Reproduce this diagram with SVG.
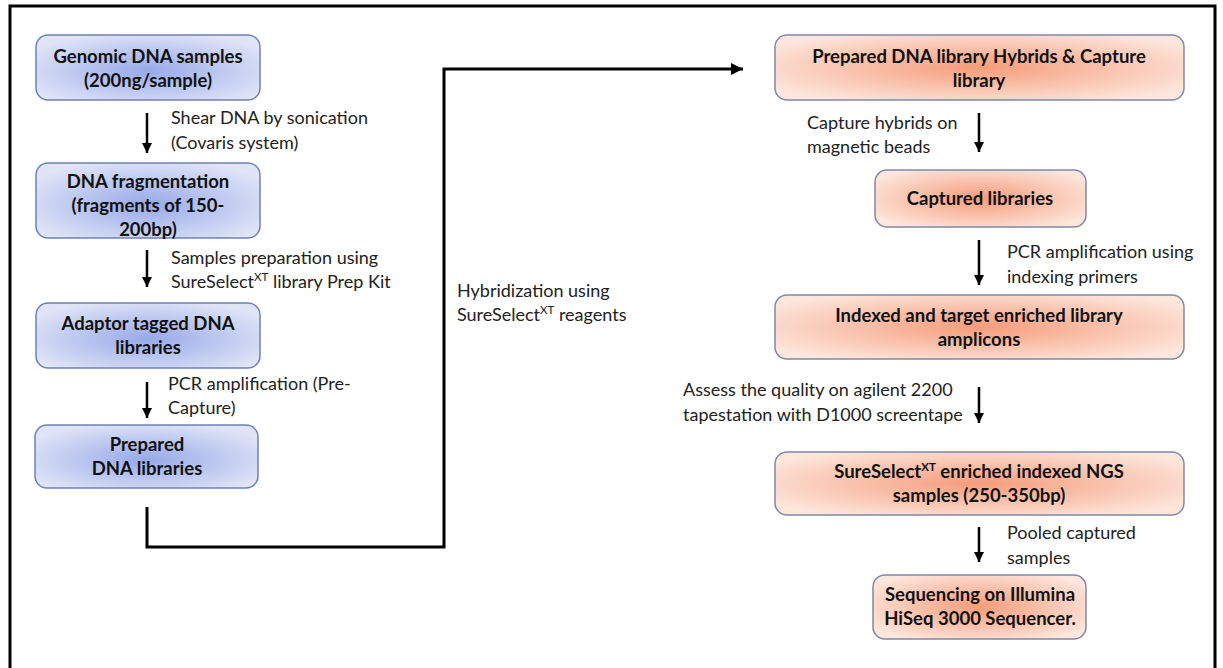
<svg xmlns="http://www.w3.org/2000/svg" width="1223" height="668" viewBox="0 0 1223 668">
  <defs>
    <radialGradient id="gBlue" cx="50%" cy="55%" r="60%">
      <stop offset="0" stop-color="#97a9e8"/>
      <stop offset="1" stop-color="#dfe4f7"/>
    </radialGradient>
    <radialGradient id="gOrange" cx="50%" cy="50%" r="60%">
      <stop offset="0" stop-color="#f59c7a"/>
      <stop offset="1" stop-color="#fde6dc"/>
    </radialGradient>
    <marker id="ah" viewBox="0 0 10 10" refX="10" refY="5" markerWidth="4" markerHeight="4" markerUnits="strokeWidth" orient="auto">
      <path d="M0,0 L10,5 L0,10 Z" fill="#000"/>
    </marker>
  </defs>
  <style>
    .blue { fill: url(#gBlue); stroke: #6f80b4; stroke-width: 1.5; }
    .orange { fill: url(#gOrange); stroke: #7f88aa; stroke-width: 1.5; }
    .t { font-family: Lato, "Liberation Sans", sans-serif; font-size: 18.5px; font-weight: bold; fill: #111; text-anchor: middle; }
    .l { font-family: Lato, "Liberation Sans", sans-serif; font-size: 18px; fill: #222; }
    .sup { font-size: 11.5px; }
    .arr { stroke: #000; stroke-width: 2.5; fill: none; marker-end: url(#ah); }
    .flow { stroke: #000; stroke-width: 3; fill: none; marker-end: url(#ah); }
  </style>

  <rect width="1223" height="668" fill="#fff"/>
  <!-- outer frame, open at the bottom edge -->
  <path d="M10,680 V6 H1215 V680" fill="none" stroke="#000" stroke-width="3"/>

  <!-- left column -->
  <g id="genomic">
    <rect class="blue" x="36" y="35" width="224" height="65" rx="12"/>
    <text class="t" x="148" y="63">Genomic DNA samples</text>
    <text class="t" x="148" y="87">(200ng/sample)</text>
  </g>
  <g id="fragmentation">
    <rect class="blue" x="36" y="163" width="224" height="75" rx="12"/>
    <text class="t" x="148" y="188">DNA fragmentation</text>
    <text class="t" x="148" y="212">(fragments of 150-</text>
    <text class="t" x="148" y="236">200bp)</text>
  </g>
  <g id="adaptor">
    <rect class="blue" x="36" y="303" width="224" height="65" rx="12"/>
    <text class="t" x="148" y="330">Adaptor tagged DNA</text>
    <text class="t" x="148" y="354">libraries</text>
  </g>
  <g id="prepared">
    <rect class="blue" x="35" y="425" width="223" height="63" rx="12"/>
    <text class="t" x="147" y="451">Prepared</text>
    <text class="t" x="147" y="475">DNA libraries</text>
  </g>

  <!-- right column -->
  <g id="hybrids">
    <rect class="orange" x="775" y="35" width="409" height="65" rx="12"/>
    <text class="t" x="979" y="63">Prepared DNA library Hybrids &amp; Capture</text>
    <text class="t" x="979" y="87">library</text>
  </g>
  <g id="captured">
    <rect class="orange" x="875" y="170" width="211" height="57" rx="12"/>
    <text class="t" x="980" y="205">Captured libraries</text>
  </g>
  <g id="indexed">
    <rect class="orange" x="775" y="295" width="409" height="64" rx="12"/>
    <text class="t" x="979" y="322">Indexed and target enriched library</text>
    <text class="t" x="979" y="346">amplicons</text>
  </g>
  <g id="enriched">
    <rect class="orange" x="775" y="452" width="409" height="63" rx="12"/>
    <text class="t" x="979" y="478">SureSelect<tspan class="sup" dy="-7">XT</tspan><tspan dy="7"> enriched indexed NGS</tspan></text>
    <text class="t" x="979" y="502">samples (250-350bp)</text>
  </g>
  <g id="sequencing">
    <rect class="orange" x="873" y="575" width="213" height="64" rx="12"/>
    <text class="t" x="980" y="601">Sequencing on Illumina</text>
    <text class="t" x="980" y="625">HiSeq 3000 Sequencer.</text>
  </g>

  <!-- connectors -->
  <g id="connectors">
    <line class="arr" x1="147" y1="113" x2="147" y2="153"/>
    <line class="arr" x1="147" y1="250" x2="147" y2="287"/>
    <line class="arr" x1="147" y1="382" x2="147" y2="418"/>
    <path class="flow" d="M147,507 V547 H444 V69 H743"/>
    <line class="arr" x1="979" y1="113" x2="979" y2="152"/>
    <line class="arr" x1="979" y1="240" x2="979" y2="285"/>
    <line class="arr" x1="979" y1="387" x2="979" y2="423"/>
    <line class="arr" x1="979" y1="527" x2="979" y2="562"/>
  </g>

  <!-- step labels -->
  <g id="labels">
    <text class="l" x="171" y="124">Shear DNA by sonication</text>
    <text class="l" x="171" y="149">(Covaris system)</text>
    <text class="l" x="171" y="264">Samples preparation using</text>
    <text class="l" x="171" y="288">SureSelect<tspan class="sup" dy="-7">XT</tspan><tspan dy="7"> library Prep Kit</tspan></text>
    <text class="l" x="168" y="390">PCR amplification (Pre-</text>
    <text class="l" x="168" y="414">Capture)</text>
    <text class="l" x="457" y="297">Hybridization using</text>
    <text class="l" x="457" y="321">SureSelect<tspan class="sup" dy="-7">XT</tspan><tspan dy="7">  reagents</tspan></text>
    <text class="l" x="807" y="129">Capture hybrids on</text>
    <text class="l" x="807" y="153">magnetic beads</text>
    <text class="l" x="1007" y="258">PCR amplification using</text>
    <text class="l" x="1007" y="283">indexing primers</text>
    <text class="l" x="683" y="396">Assess the quality on agilent 2200</text>
    <text class="l" x="683" y="421">tapestation with D1000 screentape</text>
    <text class="l" x="1007" y="539">Pooled captured</text>
    <text class="l" x="1007" y="564">samples</text>
  </g>
</svg>
